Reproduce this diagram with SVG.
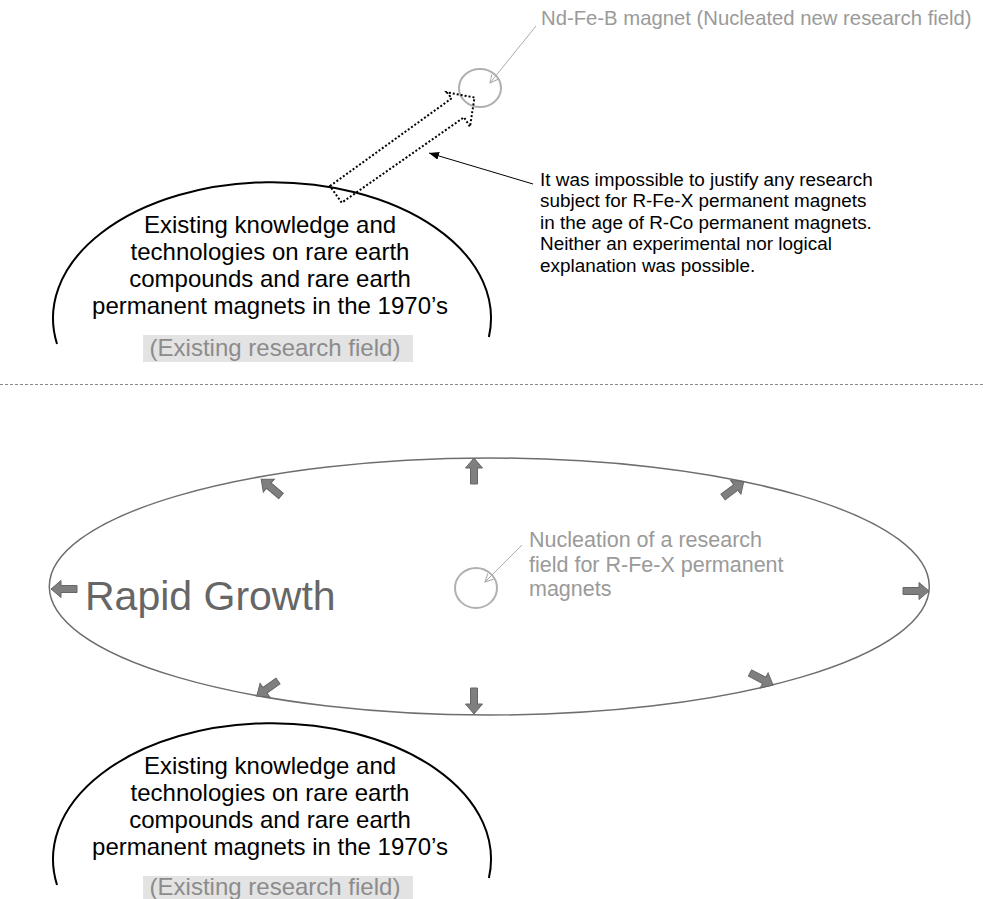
<svg xmlns="http://www.w3.org/2000/svg" xmlns:xlink="http://www.w3.org/1999/xlink" width="983" height="899" viewBox="0 0 983 899">
<style>
text{font-family:"Liberation Sans",Arial,Helvetica,sans-serif}
.blob{fill:none;stroke:#000;stroke-width:2}
.blobtxt{font-size:24px;fill:#000;text-anchor:middle}
.box{fill:#e3e3e3}
.boxtxt{font-size:24px;fill:#8c8c8c;text-anchor:middle}
.note{font-size:18.9px;fill:#000}
.gtxt{fill:#9a9a9a}
.nuc{fill:none;stroke:#b0b0b0;stroke-width:2}
.gline{fill:none;stroke:#aaa;stroke-width:1}
.bline{fill:none;stroke:#000;stroke-width:1}
.blk{fill:#7f7f7f;stroke:#666;stroke-width:1}
</style>
<defs>
<marker id="mb" markerUnits="userSpaceOnUse" markerWidth="12" markerHeight="10" refX="10" refY="4" orient="auto">
<path d="M0,0 L10,4 L0,8 Z" fill="#000"/>
</marker>
<marker id="mg" markerUnits="userSpaceOnUse" markerWidth="12" markerHeight="12" refX="9" refY="5" orient="auto">
<path d="M1,1 L9,5 L1,9" fill="none" stroke="#aaa" stroke-width="1"/>
</marker>
<polygon id="ba" points="0,-3.5 16,-3.5 16,-8.5 26,0 16,8.5 16,3.5 0,3.5"/>
</defs>

<g id="existing-field-top">
<path class="blob" d="M57,344 A219,136 0 1 1 488.9,337"/>
<text class="blobtxt"><tspan x="270" y="232.5">Existing knowledge and</tspan><tspan x="270" y="259.5">technologies on rare earth</tspan><tspan x="270" y="286.5">compounds and rare earth</tspan><tspan x="270" y="313.5">permanent magnets in the 1970’s</tspan></text>
<rect class="box" x="143" y="335" width="270" height="27"/>
<text class="boxtxt" x="275" y="356">(Existing research field)</text>
</g>

<g id="ndfeb-nucleus">
<ellipse class="nuc" cx="480" cy="88" rx="21" ry="19"/>
<text class="gtxt" x="541" y="25" font-size="20.3">Nd-Fe-B magnet (Nucleated new research field)</text>
</g>

<g id="dotted-arrow">
<polygon points="330,186 451.7,98.3 446.7,92.3 474.5,97.5 470,126.7 464,117.3 341.7,202.7" fill="none" stroke="#000" stroke-width="2" stroke-dasharray="2 2"/>
</g>

<g id="impossible-note">
<text class="note"><tspan x="540" y="185.5">It was impossible to justify any research</tspan><tspan x="540" y="207">subject for R-Fe-X permanent magnets</tspan><tspan x="540" y="228.5">in the age of R-Co permanent magnets.</tspan><tspan x="540" y="250">Neither an experimental nor logical</tspan><tspan x="540" y="271.5">explanation was possible.</tspan></text>
</g>

<g id="separator">
<line x1="0" y1="384.5" x2="983" y2="384.5" stroke="#8a8a8a" stroke-width="1" stroke-dasharray="3 2"/>
</g>

<g id="rapid-growth">
<ellipse cx="489.3" cy="586.5" rx="440" ry="128.5" fill="none" stroke="#6e6e6e" stroke-width="1.5"/>
<text x="85" y="610" font-size="41" fill="#666">Rapid Growth</text>
<use xlink:href="#ba" href="#ba" class="blk" transform="translate(474,484) rotate(-90)"/>
<use xlink:href="#ba" href="#ba" class="blk" transform="translate(474,688) rotate(90)"/>
<use xlink:href="#ba" href="#ba" class="blk" transform="translate(77,589) rotate(180)"/>
<use xlink:href="#ba" href="#ba" class="blk" transform="translate(903,591)"/>
<use xlink:href="#ba" href="#ba" class="blk" transform="translate(281,496) rotate(-139.6)"/>
<use xlink:href="#ba" href="#ba" class="blk" transform="translate(723,497) rotate(-36.9)"/>
<use xlink:href="#ba" href="#ba" class="blk" transform="translate(278,681) rotate(144.5)"/>
<use xlink:href="#ba" href="#ba" class="blk" transform="translate(750,673) rotate(27.6)"/>
</g>

<g id="rfex-nucleus">
<ellipse class="nuc" cx="476" cy="588" rx="21" ry="20"/>
<text class="gtxt" font-size="21.5"><tspan x="529" y="547">Nucleation of a research</tspan><tspan x="529" y="571.5">field for R-Fe-X permanent</tspan><tspan x="529" y="596">magnets</tspan></text>
</g>

<g id="existing-field-bottom">
<path class="blob" d="M57,885 A219,136 0 1 1 488.9,878"/>
<text class="blobtxt"><tspan x="270" y="773.5">Existing knowledge and</tspan><tspan x="270" y="800.5">technologies on rare earth</tspan><tspan x="270" y="827.5">compounds and rare earth</tspan><tspan x="270" y="854.5">permanent magnets in the 1970’s</tspan></text>
<rect class="box" x="143" y="876" width="270" height="27"/>
<text class="boxtxt" x="275" y="895">(Existing research field)</text>
</g>

<g id="connectors">
<line class="gline" x1="536" y1="26" x2="490" y2="83" marker-end="url(#mg)"/>
<line class="bline" x1="533" y1="184" x2="429" y2="153" marker-end="url(#mb)"/>
<line class="gline" x1="522" y1="545" x2="485" y2="582" marker-end="url(#mg)"/>
</g>
</svg>
